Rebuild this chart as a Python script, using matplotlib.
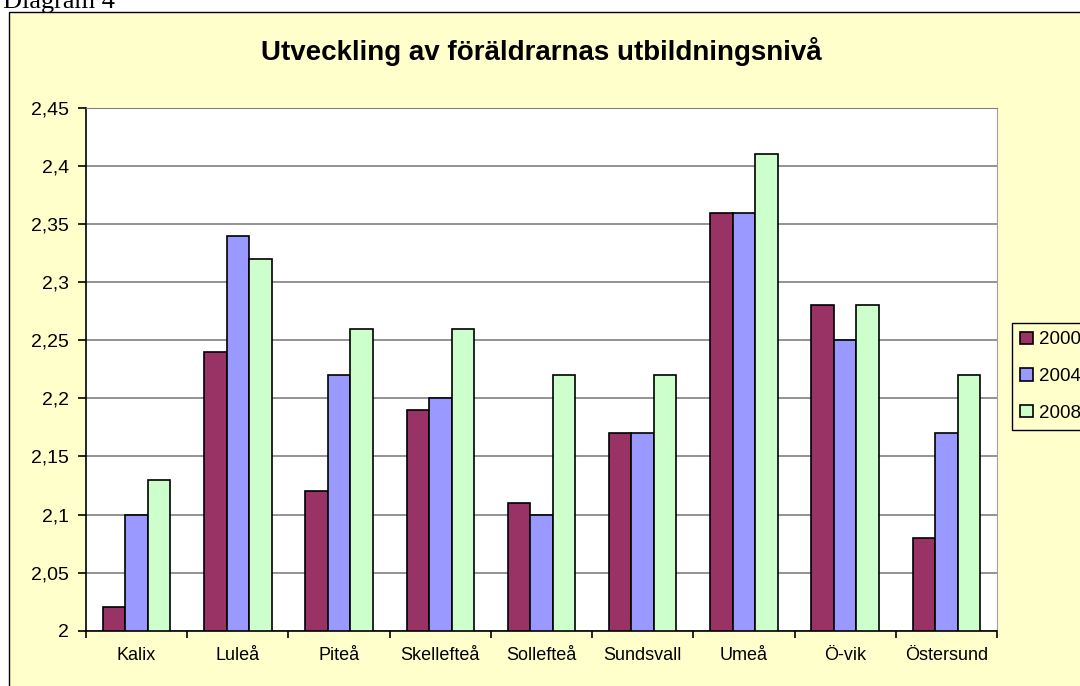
import numpy as np
import matplotlib
matplotlib.use('Agg')
from matplotlib import pyplot as plt
from matplotlib.patches import Rectangle
from matplotlib.ticker import FixedLocator, NullFormatter

# data
towns = ['Kalix', 'Luleå', 'Piteå', 'Skellefteå', 'Sollefteå',
         'Sundsvall', 'Umeå', 'Ö-vik', 'Östersund']
years = ['2000', '2004', '2008']
v2000 = [2.02, 2.24, 2.12, 2.19, 2.11, 2.17, 2.36, 2.28, 2.08]
v2004 = [2.10, 2.34, 2.22, 2.20, 2.10, 2.17, 2.36, 2.25, 2.17]
v2008 = [2.13, 2.32, 2.26, 2.26, 2.22, 2.22, 2.41, 2.28, 2.22]
yticks = [2, 2.05, 2.1, 2.15, 2.2, 2.25, 2.3, 2.35, 2.4, 2.45]

colors = ['#993366', '#9999FF', '#CCFFCC']
bg = '#FFFFCC'

plt.rcParams['font.family'] = ['Liberation Sans', 'DejaVu Sans']

W, H = 1080, 686
fig = plt.figure(figsize=(W / 100, H / 100), dpi=100, facecolor='white')

# chart area frame, runs off the right and bottom edge
fig.patches.append(Rectangle((9 / W, -0.1), 1.2, (H - 12) / H + 0.1,
                             transform=fig.transFigure, facecolor=bg,
                             edgecolor='black', linewidth=1, zorder=-5))

fig.text(3 / W, 1 - 8 / H, 'Diagram 4', family='Liberation Serif',
         fontsize=19, va='baseline', ha='left')
fig.text(541 / W, 1 - 52 / H, 'Utveckling av föräldrarnas utbildningsnivå',
         fontsize=20, fontweight='bold', ha='center', va='center')

ax = fig.add_axes([86 / W, (H - 630.7) / H, (997 - 86) / W, (630.7 - 108) / H])
ax.set_facecolor('white')

x = np.arange(len(towns))
w = 1 / 4.5
for i, (vals, yr) in enumerate(zip([v2000, v2004, v2008], years)):
    ax.bar(x + (i - 1) * w, np.array(vals) - 2, width=w, bottom=2,
           color=colors[i], edgecolor='black', linewidth=1.2, label=yr, zorder=3)

ax.set_xlim(-0.5, len(towns) - 0.5)
ax.set_ylim(2, 2.45)
ax.set_yticks(yticks)
ax.set_yticklabels([('%g' % t).replace('.', ',') for t in yticks], fontsize=14)
ax.yaxis.grid(True, color='#808080', linewidth=1.2, zorder=0)

ax.xaxis.set_major_locator(FixedLocator(np.arange(-0.5, len(towns), 1)))
ax.xaxis.set_major_formatter(NullFormatter())
ax.xaxis.set_minor_locator(FixedLocator(x))
ax.set_xticklabels(towns, minor=True, fontsize=13)
ax.tick_params(axis='x', which='minor', length=0, pad=12)
ax.tick_params(axis='x', which='major', length=5, direction='out', width=1.2)
ax.tick_params(axis='y', length=6, direction='out', pad=6.5, width=1.2)

ax.spines['left'].set_color('black')
ax.spines['bottom'].set_color('black')
ax.spines['left'].set_linewidth(1.2)
ax.spines['bottom'].set_linewidth(1.2)
ax.spines['top'].set_color('#808080')
ax.spines['right'].set_color('#A0A0A0')

leg = fig.legend(loc='upper left', bbox_to_anchor=(1012 / W, 1 - 323 / H),
                 fontsize=13.5, frameon=True, fancybox=False, edgecolor='black',
                 facecolor=bg, framealpha=1, handlelength=0.65, handleheight=0.65,
                 handletextpad=0.35, labelspacing=1.05, borderpad=0.45,
                 borderaxespad=0)
leg.get_frame().set_linewidth(1)

fig.savefig('out.png', dpi=100, facecolor='white')
